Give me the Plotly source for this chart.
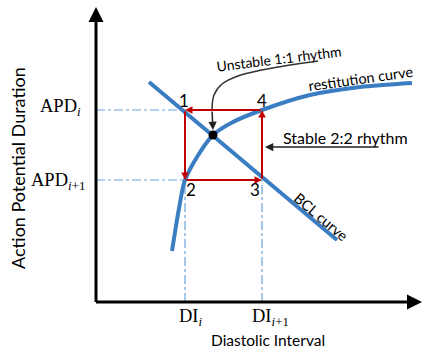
import plotly.graph_objects as go

# ---- data (chart units: origin at axes crossing) ----
di_marks = [89, 166]
di_labels = ["DI<sub><i>i</i></sub>", "DI<sub><i>i</i>+1</sub>"]
apd_marks = [192, 122]
apd_labels = ["APD<sub><i>i</i></sub>", "APD<sub><i>i</i>+1</sub>"]

rest_di = [76, 81, 87, 89, 101, 117, 137, 166, 214, 264, 316]
rest_apd = [51, 82, 115, 122, 145, 167, 180, 192, 207, 215, 219]

bcl_di = [53, 241]
bcl_apd = [220, 62]

corner_names = ["1", "2", "3", "4"]
corner_di = [89, 89, 166, 166]
corner_apd = [192, 122, 122, 192]

fixed_di = [117]
fixed_apd = [167]

unstable_path_di = [222, 194, 166, 142, 126, 118, 116]
unstable_path_apd = [241, 237, 232, 226, 218, 207, 192]
unstable_tip = (117, 172)

stable_tail = (284, 155)
stable_tip = (169, 155)

x_axis_end = 326
y_axis_end = 295

BLUE = "#3a7dc2"
LBLUE = "#6aa3db"
RED = "#c00000"
SANS = "Lato"
SERIF = "Liberation Serif"

fig = go.Figure()

# guide dash-dot lines
for a in apd_marks:
    fig.add_trace(go.Scatter(x=[0, di_marks[0]], y=[a, a], mode="lines",
                             line=dict(color=LBLUE, width=1.2, dash="dashdot"),
                             hoverinfo="skip", showlegend=False))
for d in di_marks:
    fig.add_trace(go.Scatter(x=[d, d], y=[0, apd_marks[1]], mode="lines",
                             line=dict(color=LBLUE, width=1.2, dash="dashdot"),
                             hoverinfo="skip", showlegend=False))

# BCL line
fig.add_trace(go.Scatter(x=bcl_di, y=bcl_apd, mode="lines",
                         line=dict(color=BLUE, width=4), showlegend=False))
# restitution curve
fig.add_trace(go.Scatter(x=rest_di, y=rest_apd, mode="lines",
                         line=dict(color=BLUE, width=4, shape="spline", smoothing=0.8),
                         showlegend=False))

# unstable pointer curve
fig.add_trace(go.Scatter(x=unstable_path_di, y=unstable_path_apd, mode="lines",
                         line=dict(color="#333333", width=1.5, shape="spline"),
                         showlegend=False))

# fixed point
fig.add_trace(go.Scatter(x=fixed_di, y=fixed_apd, mode="markers",
                         marker=dict(color="black", size=9), showlegend=False))

ann = []


def arrow(tip, tail, color, width, head=2, size=1.0):
    ann.append(dict(x=tip[0], y=tip[1], ax=tail[0], ay=tail[1], xref="x", yref="y",
                    axref="x", ayref="y", text="", showarrow=True, arrowhead=head,
                    arrowsize=size, arrowwidth=width, arrowcolor=color))


# axes with arrows
arrow((0, y_axis_end), (0, -1.5), "black", 3, head=2, size=1.0)
arrow((x_axis_end, 0), (-1.5, 0), "black", 3, head=2, size=1.0)

# red cobweb 1->2->3->4->1
order = [0, 1, 2, 3, 0]
for k in range(4):
    a, b = order[k], order[k + 1]
    arrow((corner_di[b], corner_apd[b]), (corner_di[a], corner_apd[a]), RED, 2, head=2, size=0.75)

# unstable pointer arrowhead, stable pointer
arrow(unstable_tip, (unstable_path_di[-1], unstable_path_apd[-1]), "#222222", 1.5, head=2, size=1.1)
arrow(stable_tip, stable_tail, "#222222", 1.5, head=2, size=1.1)


def text(x, y, s, size=15, font=SANS, angle=0, color="black"):
    ann.append(dict(x=x, y=y, xref="x", yref="y", text=s, showarrow=False,
                    textangle=angle, xanchor="center", yanchor="middle",
                    font=dict(family=font, size=size, color=color)))


# corner numbers
num_pos = [(88, 202), (95, 113), (159, 113), (166, 202)]
for name, (x, y) in zip(corner_names, num_pos):
    text(x, y, name, size=17)

text(183, 244, "Unstable 1:1 rhythm", size=14, angle=-7)
text(265, 224, "restitution curve", size=14.5, angle=-8)
text(249, 165, "Stable 2:2 rhythm", size=16)
text(225, 86, "BCL curve", size=14.5, angle=40)

text(-36, 195, apd_labels[0], size=18.5, font=SERIF)
text(-38, 121, apd_labels[1], size=18.5, font=SERIF)
text(di_marks[0] + 6, -15, di_labels[0], size=18.5, font=SERIF)
text(di_marks[1] + 8, -15, di_labels[1], size=18.5, font=SERIF)

text(172, -38, "Diastolic Interval", size=15.5)
text(-78, 134, "Action Potential Duration", size=18, angle=-90)

fig.update_layout(
    width=426, height=350, margin=dict(l=0, r=0, t=0, b=0),
    paper_bgcolor="white", plot_bgcolor="white",
    xaxis=dict(range=[-96, 330], visible=False, fixedrange=True),
    yaxis=dict(range=[-48, 302], visible=False, fixedrange=True),
    annotations=ann, showlegend=False,
)

fig.write_html("out.html")
